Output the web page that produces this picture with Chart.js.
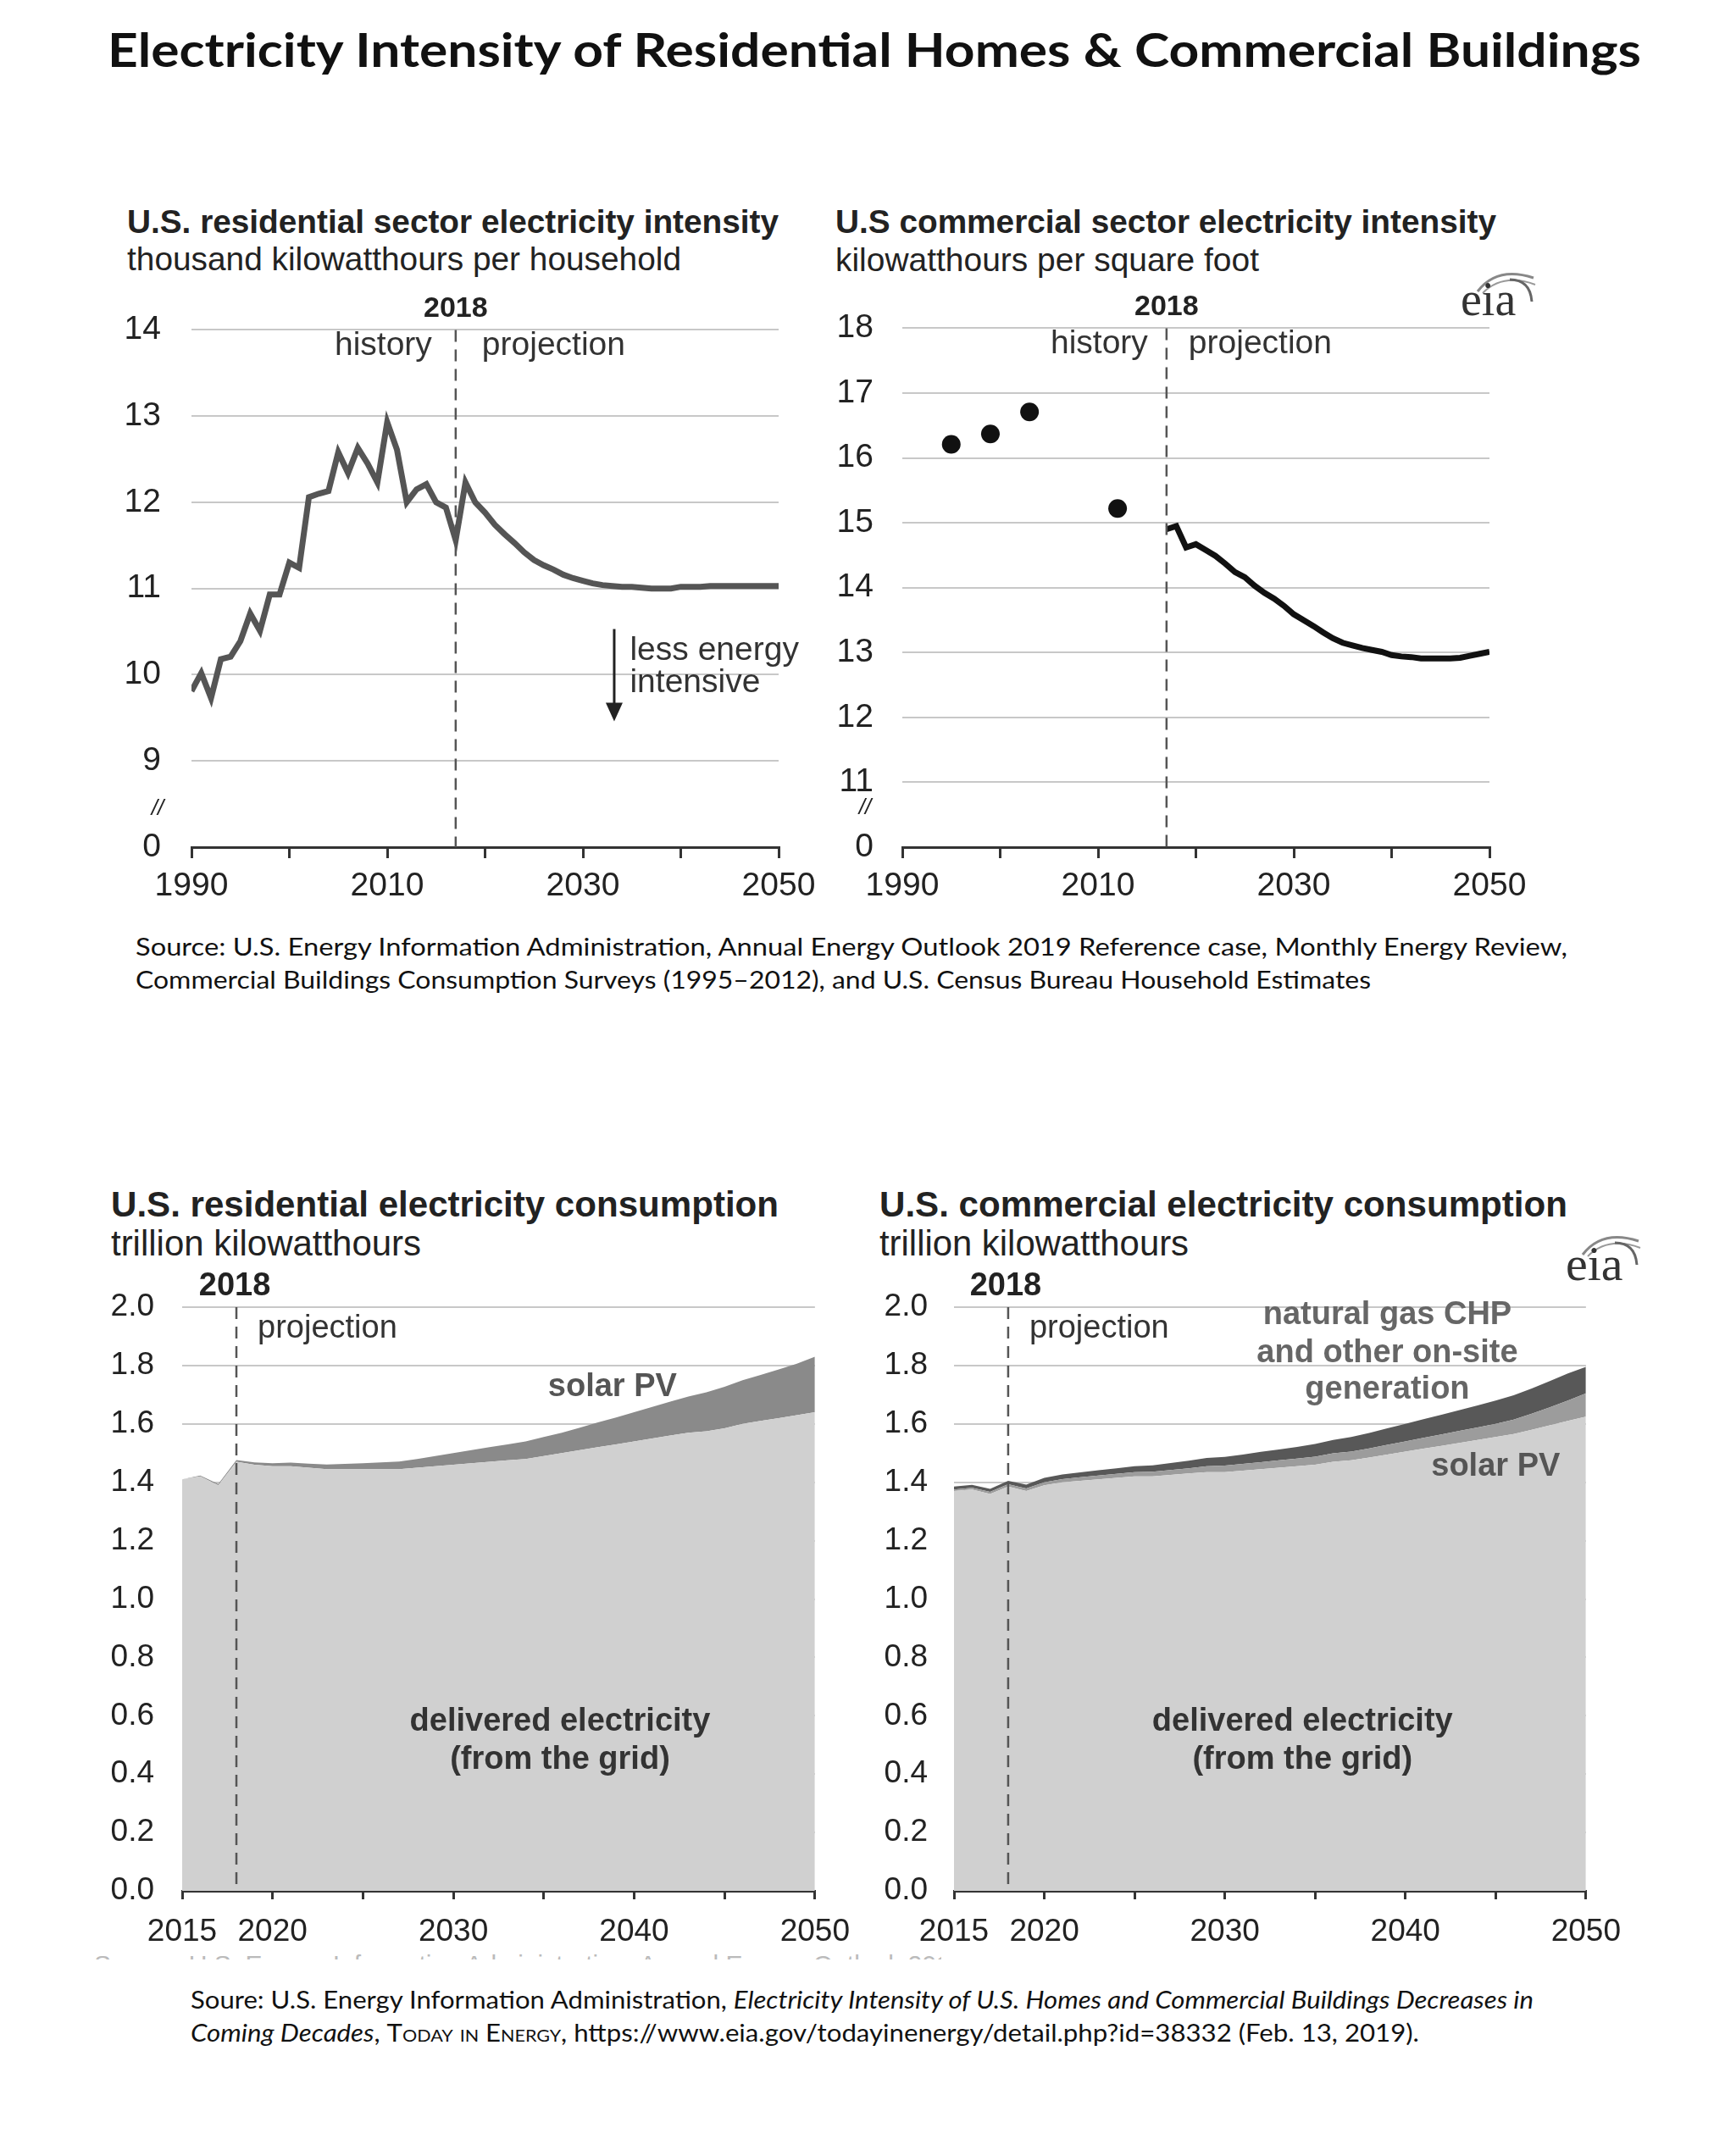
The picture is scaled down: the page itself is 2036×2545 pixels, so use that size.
<!DOCTYPE html>
<html><head><meta charset="utf-8">
<script src="https://cdn.jsdelivr.net/npm/chart.js@4.4.1/dist/chart.umd.min.js"></script>
<style>
html,body{margin:0;padding:0;background:#fff;}
#page{position:relative;width:2036px;height:2545px;background:#fff;overflow:hidden;}
.t{position:absolute;white-space:nowrap;line-height:1;transform-origin:0 50%;}
canvas{position:absolute;}
.ct{font-family:'Liberation Sans',Arial,sans-serif;color:#222;}
.gs{font-family:Lato,'Noto Sans',sans-serif;color:#111;}
</style></head>
<body><div id="page">
<div class="t gs" data-w="1810" style="left:127px;top:31px;font-size:55px;font-weight:700;">Electricity Intensity of Residential Homes &amp; Commercial Buildings</div>

<div class="t ct" data-w="769" style="left:150px;top:242px;font-size:39px;font-weight:700;">U.S. residential sector electricity intensity</div>
<div class="t ct" data-w="654" style="left:150px;top:286px;font-size:39px;">thousand kilowatthours per household</div>
<div class="t ct" data-w="780" style="left:986px;top:242px;font-size:39px;font-weight:700;">U.S commercial sector electricity intensity</div>
<div class="t ct" data-w="500" style="left:986px;top:287px;font-size:39px;">kilowatthours per square foot</div>

<div class="t gs" data-w="1690" style="left:160px;top:1102px;font-size:29px;">Source: U.S. Energy Information Administration, Annual Energy Outlook 2019 Reference case, Monthly Energy Review,</div>
<div class="t gs" data-w="1458" style="left:160px;top:1141px;font-size:29px;">Commercial Buildings Consumption Surveys (1995–2012), and U.S. Census Bureau Household Estimates</div>

<div class="t ct" data-w="788" style="left:131px;top:1401px;font-size:42px;font-weight:700;">U.S. residential electricity consumption</div>
<div class="t ct" data-w="366" style="left:131px;top:1447px;font-size:42px;">trillion kilowatthours</div>
<div class="t ct" data-w="812" style="left:1038px;top:1401px;font-size:42px;font-weight:700;">U.S. commercial electricity consumption</div>
<div class="t ct" data-w="365" style="left:1038px;top:1447px;font-size:42px;">trillion kilowatthours</div>

<div style="position:absolute;left:111px;top:2304px;width:1000px;height:9px;overflow:hidden;">
<div class="t ct" style="left:0;top:0;font-size:30px;color:#bbb;">Source: U.S. Energy Information Administration, Annual Energy Outlook 2019 Reference case</div></div>

<div class="t gs" data-w="1585" style="left:225px;top:2345px;font-size:29px;">Soure: U.S. Energy Information Administration, <i>Electricity Intensity of U.S. Homes and Commercial Buildings Decreases in</i></div>
<div class="t gs" data-w="1450" style="left:225px;top:2384px;font-size:29px;"><i>Coming Decades</i>, <span style="font-variant:small-caps;">Today in Energy</span>, https://www.eia.gov/todayinenergy/detail.php?id=38332 (Feb. 13, 2019).</div>

<canvas id="c1" width="880" height="760" style="left:100px;top:330px;"></canvas>
<canvas id="c2" width="880" height="760" style="left:940px;top:330px;"></canvas>
<canvas id="c3" width="920" height="840" style="left:100px;top:1480px;"></canvas>
<canvas id="c4" width="920" height="840" style="left:1010px;top:1480px;"></canvas>

<svg style="position:absolute;left:1722px;top:306px;" width="100" height="75">
<path d="M22 38 Q45 8 88 22" stroke="#888" stroke-width="3" fill="none"/>
<path d="M28 40 Q52 16 90 30" stroke="#999" stroke-width="2" fill="none"/>
<path d="M60 24 Q84 24 86 50" stroke="#666" stroke-width="3" fill="none"/>
<text x="2" y="66" font-family="'Liberation Serif',serif" font-size="56" fill="#333">eia</text>
</svg>
<svg style="position:absolute;left:1846px;top:1443px;" width="100" height="75">
<path d="M22 38 Q45 8 88 22" stroke="#888" stroke-width="3" fill="none"/>
<path d="M28 40 Q52 16 90 30" stroke="#999" stroke-width="2" fill="none"/>
<path d="M60 24 Q84 24 86 50" stroke="#666" stroke-width="3" fill="none"/>
<text x="2" y="68" font-family="'Liberation Serif',serif" font-size="58" fill="#333">eia</text>
</svg>
</div>
<script>
// ---------- DATA ----------
const resIntYears = [1990,1991,1992,1993,1994,1995,1996,1997,1998,1999,2000,2001,2002,2003,2004,2005,2006,2007,2008,2009,2010,2011,2012,2013,2014,2015,2016,2017,2018,2019,2020,2021,2022,2023,2024,2025,2026,2027,2028,2029,2030,2031,2032,2033,2034,2035,2036,2037,2038,2039,2040,2041,2042,2043,2044,2045,2046,2047,2048,2049,2050];
const resIntValues = [9.81,10.02,9.73,10.18,10.21,10.39,10.71,10.51,10.93,10.93,11.30,11.24,12.06,12.10,12.13,12.58,12.34,12.63,12.45,12.23,12.93,12.61,12.00,12.15,12.21,12.00,11.94,11.56,12.23,12.00,11.88,11.74,11.63,11.53,11.42,11.33,11.27,11.22,11.16,11.12,11.09,11.06,11.04,11.03,11.02,11.02,11.01,11.00,11.00,11.00,11.02,11.02,11.02,11.03,11.03,11.03,11.03,11.03,11.03,11.03,11.03];

const comSurveyYears = [1995,1999,2003,2012];
const comSurveyValues = [16.21,16.37,16.71,15.22];
const comProjYears = [2017,2018,2019,2020,2021,2022,2023,2024,2025,2026,2027,2028,2029,2030,2031,2032,2033,2034,2035,2036,2037,2038,2039,2040,2041,2042,2043,2044,2045,2046,2047,2048,2049,2050];
const comProjValues = [14.90,14.95,14.62,14.67,14.58,14.49,14.37,14.24,14.16,14.03,13.92,13.83,13.72,13.59,13.50,13.41,13.31,13.22,13.15,13.11,13.07,13.04,13.01,12.96,12.94,12.93,12.91,12.91,12.91,12.91,12.92,12.95,12.98,13.01];

const consYears = [2015,2016,2017,2018,2019,2020,2021,2022,2023,2024,2025,2026,2027,2028,2029,2030,2031,2032,2033,2034,2035,2036,2037,2038,2039,2040,2041,2042,2043,2044,2045,2046,2047,2048,2049,2050];
const resDelivered = [1.41,1.42,1.39,1.47,1.46,1.455,1.455,1.45,1.445,1.445,1.445,1.445,1.445,1.45,1.455,1.46,1.465,1.47,1.475,1.48,1.49,1.50,1.51,1.52,1.53,1.54,1.55,1.56,1.57,1.575,1.585,1.60,1.61,1.62,1.63,1.64];
const resSolarPV = [0.0,0.003,0.004,0.006,0.008,0.01,0.012,0.014,0.016,0.018,0.02,0.023,0.026,0.03,0.035,0.04,0.045,0.05,0.055,0.06,0.065,0.07,0.077,0.085,0.092,0.10,0.108,0.116,0.124,0.133,0.142,0.15,0.158,0.167,0.176,0.19];
const comDelivered = [1.37,1.375,1.36,1.385,1.37,1.39,1.40,1.405,1.41,1.415,1.42,1.42,1.425,1.43,1.435,1.435,1.44,1.445,1.45,1.455,1.46,1.47,1.475,1.485,1.495,1.505,1.515,1.525,1.535,1.545,1.555,1.565,1.58,1.595,1.61,1.625];
const comSolarPV = [0.005,0.006,0.007,0.008,0.009,0.01,0.011,0.012,0.013,0.014,0.015,0.016,0.017,0.018,0.02,0.022,0.023,0.024,0.025,0.026,0.028,0.029,0.03,0.031,0.033,0.035,0.037,0.039,0.041,0.043,0.045,0.05,0.055,0.062,0.07,0.08];
const comOnsite = [0.01,0.01,0.01,0.012,0.013,0.015,0.016,0.017,0.018,0.019,0.02,0.022,0.024,0.026,0.028,0.03,0.032,0.035,0.037,0.04,0.043,0.046,0.05,0.053,0.057,0.06,0.064,0.067,0.071,0.075,0.08,0.083,0.086,0.09,0.093,0.09];

const intensityXTicksShown = [1990,2010,2030,2050];
const consXTicksShown = [2015,2020,2030,2040,2050];
const intensityDivider = 2017;
const consDivider = 2018;

// ---------- HELPERS ----------
const FF = "'Liberation Sans', Arial, sans-serif";
Chart.defaults.font.family = FF;
Chart.defaults.color = '#222';
const pts = (xs, ys) => xs.map((x, i) => ({x, y: ys[i]}));

function txt(ctx, s, x, y, size, weight, color, align) {
  ctx.font = (weight || '') + ' ' + size + 'px ' + FF;
  ctx.fillStyle = color || '#222';
  ctx.textAlign = align || 'left';
  ctx.textBaseline = 'middle';
  ctx.fillText(s, x, y);
}
function dashed(ctx, chart, x) {
  const a = chart.chartArea;
  ctx.save();
  ctx.strokeStyle = '#555'; ctx.lineWidth = 2.5; ctx.setLineDash([14, 9]);
  ctx.beginPath(); ctx.moveTo(x, a.top); ctx.lineTo(x, a.bottom); ctx.stroke();
  ctx.restore();
}
function annot(fn) { return { id: 'annot', afterDatasetsDraw(chart) { const c = chart.ctx; c.save(); fn(chart, c, chart.scales.x, chart.scales.y); c.restore(); } }; }

function axes(o) {
  return {
    x: {
      type: 'linear', min: o.xmin, max: o.xmax,
      afterFit: s => { s.height = o.xh; },
      ticks: { stepSize: o.xstep, padding: o.xpad, maxRotation: 0, autoSkip: false, font: { size: o.fs }, color: '#222',
        callback: v => o.xshow.includes(v) ? String(v) : '' },
      grid: { drawOnChartArea: false, drawTicks: true, tickLength: o.tl, color: '#333', lineWidth: 3 },
      border: { display: true, color: '#333', width: 3 }
    },
    y: {
      min: o.ymin, max: o.ymax, stacked: !!o.stacked,
      afterFit: s => { s.width = o.yw; },
      ticks: { stepSize: o.ystep, padding: o.ypad, autoSkip: false, font: { size: o.fs }, color: '#222', callback: o.ylab },
      grid: { drawTicks: false, color: c => (c.tick && c.tick.value === o.ymin) ? 'rgba(0,0,0,0)' : '#c8c8c8', lineWidth: 2 },
      border: { display: false }
    }
  };
}
const base = { responsive: false, animation: false, devicePixelRatio: 1, plugins: { legend: { display: false }, tooltip: { enabled: false } } };

// ---------- CHART 1 ----------
new Chart(document.getElementById('c1'), {
  type: 'line',
  data: { datasets: [{ data: pts(resIntYears, resIntValues), borderColor: '#555', borderWidth: 7, pointRadius: 0, tension: 0, fill: false }] },
  options: Object.assign({}, base, {
    layout: { padding: { left: 0, top: 57, right: 61, bottom: 0 } },
    scales: axes({ xmin: 1990, xmax: 2050, xstep: 10, xshow: intensityXTicksShown, xh: 90, xpad: 10, tl: 13, fs: 39,
      ymin: 8, ymax: 14, ystep: 1, yw: 126, ypad: 36, ylab: v => v === 8 ? '0' : String(v) })
  }),
  plugins: [annot((ch, c, xs, ys) => {
    const x = xs.getPixelForValue(intensityDivider), a = ch.chartArea;
    dashed(c, ch, x);
    txt(c, '2018', x, a.top - 25, 34, 'bold', '#222', 'center');
    txt(c, 'history', x - 28, a.top + 19, 39, '', '#333', 'right');
    txt(c, 'projection', x + 31, a.top + 19, 39, '', '#333', 'left');
    const ax = xs.getPixelForValue(2033.2), y0 = ys.getPixelForValue(10.53), y1 = ys.getPixelForValue(9.46);
    c.strokeStyle = '#222'; c.lineWidth = 3; c.beginPath(); c.moveTo(ax, y0); c.lineTo(ax, y1 - 18); c.stroke();
    c.fillStyle = '#222'; c.beginPath(); c.moveTo(ax - 10, y1 - 22); c.lineTo(ax + 10, y1 - 22); c.lineTo(ax, y1); c.closePath(); c.fill();
    txt(c, 'less energy', xs.getPixelForValue(2034.8), ys.getPixelForValue(10.28), 39, '', '#333', 'left');
    txt(c, 'intensive', xs.getPixelForValue(2034.8), ys.getPixelForValue(9.90), 39, '', '#333', 'left');
    txt(c, '//', a.left - 40, ys.getPixelForValue(8.44), 26, 'italic', '#222', 'center');
  })]
});

// ---------- CHART 2 ----------
new Chart(document.getElementById('c2'), {
  type: 'line',
  data: { datasets: [
    { data: pts(comSurveyYears, comSurveyValues), showLine: false, pointRadius: 11, pointBackgroundColor: '#111', pointBorderColor: '#111', pointBorderWidth: 0 },
    { data: pts(comProjYears, comProjValues), borderColor: '#111', borderWidth: 7, pointRadius: 0, tension: 0, fill: false }
  ] },
  options: Object.assign({}, base, {
    layout: { padding: { left: 0, top: 57, right: 62, bottom: 0 } },
    scales: axes({ xmin: 1990, xmax: 2050, xstep: 10, xshow: intensityXTicksShown, xh: 90, xpad: 10, tl: 13, fs: 39,
      ymin: 10, ymax: 18, ystep: 1, yw: 125, ypad: 34, ylab: v => v === 10 ? '0' : String(v) })
  }),
  plugins: [annot((ch, c, xs, ys) => {
    const x = xs.getPixelForValue(intensityDivider), a = ch.chartArea;
    dashed(c, ch, x);
    txt(c, '2018', x, a.top - 25, 34, 'bold', '#222', 'center');
    txt(c, 'history', x - 22, a.top + 19, 39, '', '#333', 'right');
    txt(c, 'projection', x + 26, a.top + 19, 39, '', '#333', 'left');
    txt(c, '//', a.left - 44, ys.getPixelForValue(10.6), 26, 'italic', '#222', 'center');
  })]
});

// ---------- CHART 3 ----------
const consAxes = (yw, ypad) => axes({ xmin: 2015, xmax: 2050, xstep: 5, xshow: consXTicksShown, xh: 88, xpad: 17, tl: 10, fs: 37,
  ymin: 0, ymax: 2, ystep: 0.2, yw: yw, ypad: ypad, stacked: true, ylab: v => Number(v).toFixed(1) });

new Chart(document.getElementById('c3'), {
  type: 'line',
  data: { datasets: [
    { label: 'delivered electricity (from the grid)', data: pts(consYears, resDelivered), borderWidth: 0, pointRadius: 0, fill: 'origin', backgroundColor: '#d0d0d0', borderColor: '#d0d0d0', tension: 0 },
    { label: 'solar PV', data: pts(consYears, resSolarPV), borderWidth: 0, pointRadius: 0, fill: '-1', backgroundColor: '#8a8a8a', borderColor: '#8a8a8a', tension: 0 }
  ] },
  options: Object.assign({}, base, {
    layout: { padding: { left: 0, top: 63, right: 53, bottom: 0 } },
    scales: consAxes(115, 33)
  }),
  plugins: [annot((ch, c, xs, ys) => {
    const x = xs.getPixelForValue(consDivider), a = ch.chartArea;
    dashed(c, ch, x);
    txt(c, '2018', x - 2, a.top - 24, 38, 'bold', '#222', 'center');
    txt(c, 'projection', x + 25, a.top + 26, 38, '', '#333', 'left');
    txt(c, 'solar PV', xs.getPixelForValue(2038.8), ys.getPixelForValue(1.727), 38, 'bold', '#555', 'center');
    txt(c, 'delivered electricity', xs.getPixelForValue(2035.9), ys.getPixelForValue(0.578), 38, 'bold', '#333', 'center');
    txt(c, '(from the grid)', xs.getPixelForValue(2035.9), ys.getPixelForValue(0.447), 38, 'bold', '#333', 'center');
  })]
});

// ---------- CHART 4 ----------
new Chart(document.getElementById('c4'), {
  type: 'line',
  data: { datasets: [
    { label: 'delivered electricity (from the grid)', data: pts(consYears, comDelivered), borderWidth: 0, pointRadius: 0, fill: 'origin', backgroundColor: '#d0d0d0', borderColor: '#d0d0d0', tension: 0 },
    { label: 'solar PV', data: pts(consYears, comSolarPV), borderWidth: 0, pointRadius: 0, fill: '-1', backgroundColor: '#9c9c9c', borderColor: '#9c9c9c', tension: 0 },
    { label: 'natural gas CHP and other on-site generation', data: pts(consYears, comOnsite), borderWidth: 0, pointRadius: 0, fill: '-1', backgroundColor: '#585858', borderColor: '#585858', tension: 0 }
  ] },
  options: Object.assign({}, base, {
    layout: { padding: { left: 0, top: 63, right: 53, bottom: 0 } },
    scales: consAxes(116, 31)
  }),
  plugins: [annot((ch, c, xs, ys) => {
    const x = xs.getPixelForValue(consDivider), a = ch.chartArea;
    dashed(c, ch, x);
    txt(c, '2018', x - 3, a.top - 24, 38, 'bold', '#222', 'center');
    txt(c, 'projection', x + 25, a.top + 26, 38, '', '#333', 'left');
    const lx = xs.getPixelForValue(2039.0);
    txt(c, 'natural gas CHP', lx, ys.getPixelForValue(1.971), 38, 'bold', '#666', 'center');
    txt(c, 'and other on-site', lx, ys.getPixelForValue(1.843), 38, 'bold', '#666', 'center');
    txt(c, 'generation', lx, ys.getPixelForValue(1.716), 38, 'bold', '#666', 'center');
    txt(c, 'solar PV', xs.getPixelForValue(2045.0), ys.getPixelForValue(1.454), 38, 'bold', '#555', 'center');
    txt(c, 'delivered electricity', xs.getPixelForValue(2034.3), ys.getPixelForValue(0.578), 38, 'bold', '#333', 'center');
    txt(c, '(from the grid)', xs.getPixelForValue(2034.3), ys.getPixelForValue(0.447), 38, 'bold', '#333', 'center');
  })]
});

// ---------- fit HTML text widths ----------
function fitAll() {
  document.querySelectorAll('[data-w]').forEach(el => {
    el.style.transform = 'none';
    const w = el.getBoundingClientRect().width;
    if (w > 0) el.style.transform = 'scaleX(' + (Number(el.dataset.w) / w) + ')';
  });
}
fitAll();
if (document.fonts && document.fonts.ready) document.fonts.ready.then(fitAll);
</script>
</body></html>
